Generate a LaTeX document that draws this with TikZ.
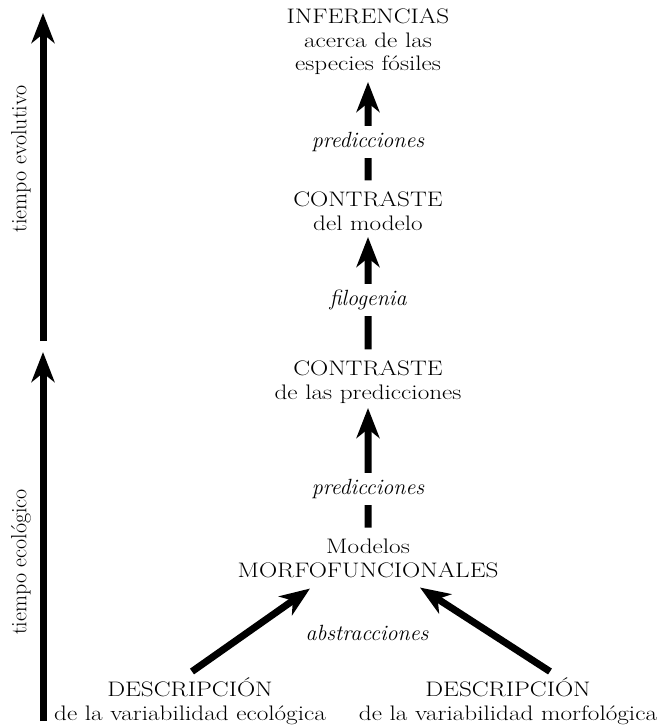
\documentclass[tikz,border=0pt]{standalone}
\usepackage{tikz}
\usetikzlibrary{arrows.meta}
\usetikzlibrary{calc}
\usetikzlibrary{positioning}
\tikzstyle{block} = [align=center, inner sep=2pt, anchor=base, xscale=1.2, font=\fontsize{21}{23.5}\selectfont]
\tikzstyle{label} = [fill=white, inner sep=6pt, font=\fontsize{22}{23}\selectfont\itshape]
\tikzstyle{side} = [rotate=90, font=\fontsize{22}{23}\selectfont]
\tikzstyle{bigarrow} = [line width=7pt, -{Stealth[length=30pt, width=23pt, inset=9pt]}]
\tikzstyle{chain} = [bigarrow, shorten <=9pt]

\begin{document}
\begin{tikzpicture}[x=1pt, y=-1pt]
    \useasboundingbox (0,0) rectangle (668,727);

    % time axes
    \coordinate (evolbot) at (43,341);
    \coordinate (evoltop) at (43,13);
    \coordinate (ecolbot) at (43,721);
    \coordinate (ecoltop) at (43,352);
    \draw [bigarrow] (evolbot) -- (evoltop);
    \draw [bigarrow] (ecolbot) -- (ecoltop);
    \node [side, name=evol] at (21,159) {tiempo evolutivo};
    \node [side, name=ecol] at (21,562) {tiempo ecológico};

    % central chain (placed on last baseline)
    \node [block, name=inferencias] at (368,71) {INFERENCIAS\\acerca de las\\especies fósiles};
    \node [block, name=modelo] at (368,230) {CONTRASTE\\del modelo};
    \node [block, name=predic] at (368,399) {CONTRASTE\\de las predicciones};
    \node [block, name=morfo] at (368,577) {Modelos\\MORFOFUNCIONALES};
    \node [block, name=desceco] at (190,720) {DESCRIPCIÓN\\de la variabilidad ecológica};
    \node [block, name=descmorf] at (508,720) {DESCRIPCIÓN\\de la variabilidad morfológica};

    \draw [chain] (modelo) -- node[label, pos=0.44] {predicciones} ($(inferencias.base)+(0,11)$);
    \draw [chain] (predic) -- node[label, pos=0.48] {filogenia} ($(modelo.base)+(0,7)$);
    \draw [chain] (morfo) -- node[label, pos=0.37] {predicciones} ($(predic.base)+(0,9)$);

    % abstractions
    \draw [bigarrow] ($(desceco.north)+(2,-4)$) -- ($(morfo.south)+(-58,9)$);
    \draw [bigarrow] ($(descmorf.north)+(42,-4)$) -- ($(morfo.south)+(52,8)$);
    \node [label, fill=none, name=abstr] at (367,633) {abstracciones};
\end{tikzpicture}
\end{document}
